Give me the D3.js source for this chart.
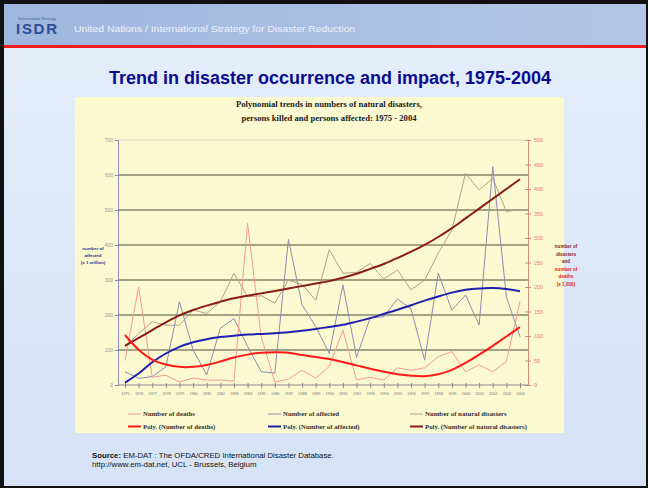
<!DOCTYPE html>
<html>
  <head>
    <script src="https://d3js.org/d3.v7.min.js"></script>
    <style>body { margin: 0; }</style>
  </head>
  <body>
    <svg width="648" height="488"></svg>
    <script>
      const years = [1975, 1976, 1977, 1978, 1979, 1980, 1981, 1982, 1983, 1984,
                     1985, 1986, 1987, 1988, 1989, 1990, 1991, 1992, 1993, 1994,
                     1995, 1996, 1997, 1998, 1999, 2000, 2001, 2002, 2003, 2004];
      // deaths x1000 (right axis)
      const deaths = [50, 200, 16, 20, 6, 14, 10, 10, 8, 330, 98, 6, 12, 30, 14,
                      38, 112, 10, 16, 10, 35, 30, 35, 58, 68, 27, 41, 27, 48, 170];
      // affected, millions (left axis)
      const affected = [38, 19, 24, 52, 238, 100, 29, 162, 190, 110, 38, 34, 416, 229, 167,
                        90, 286, 79, 192, 195, 246, 217, 71, 319, 214, 257, 171, 624, 252, 138];
      // natural disasters (right axis)
      const disasters = [78, 105, 129, 122, 122, 153, 146, 170, 228, 180, 182, 167, 214, 205, 173,
                         276, 228, 230, 248, 216, 235, 194, 214, 269, 316, 432, 398, 422, 354, 358];
      const trendDeaths = [102, 72, 52, 42, 37, 37, 41, 48, 56, 62, 66, 67, 66, 61, 57,
                           53, 47, 40, 33, 27, 22, 19, 18, 22, 31, 45, 62, 80, 99, 118];
      const trendAffected = [7, 33, 65, 90, 109, 122, 131, 137, 141, 144, 146, 148, 151, 155, 160,
                             166, 172, 181, 191, 203, 215, 228, 241, 253, 264, 272, 276, 277, 274, 268];
      const trendDisasters = [80, 96, 112, 128, 142, 153, 162, 170, 177, 182, 187, 192, 197, 202, 207,
                              212, 219, 227, 237, 247, 259, 272, 286, 302, 320, 340, 360, 380, 400, 420];
      const leftTicks = [0, 100, 200, 300, 400, 500, 600, 700];
      const rightTicks = [0, 50, 100, 150, 200, 250, 300, 350, 400, 450, 500];

      const svg = d3.select("svg");

      // slide background
      const defs = svg.append("defs");
      const hg = defs.append("linearGradient").attr("id", "hg");
      hg.append("stop").attr("offset", "0%").attr("stop-color", "#9fb6de");
      hg.append("stop").attr("offset", "100%").attr("stop-color", "#b3c6e8");
      const bg = defs.append("linearGradient").attr("id", "bg").attr("x2", 0).attr("y2", 1);
      bg.append("stop").attr("offset", "0%").attr("stop-color", "#e4eefb");
      bg.append("stop").attr("offset", "100%").attr("stop-color", "#d6e3f6");

      svg.append("rect").attr("width", 648).attr("height", 488).attr("fill", "#111");
      svg.append("rect").attr("x", 4).attr("y", 4).attr("width", 642).attr("height", 482).attr("fill", "url(#bg)");
      svg.append("rect").attr("x", 4).attr("y", 4).attr("width", 642).attr("height", 41).attr("fill", "url(#hg)");
      svg.append("rect").attr("x", 4).attr("y", 45).attr("width", 642).attr("height", 3).attr("fill", "#ee1c1c");

      // logo
      svg.append("text").attr("x", 18).attr("y", 20).attr("font-size", 4)
        .attr("font-family", "Liberation Sans, Arial").attr("fill", "#4a5f90").text("International Strategy");
      svg.append("text").attr("x", 16).attr("y", 34).attr("font-size", 15).attr("font-weight", "bold")
        .attr("font-family", "Liberation Sans, Arial").attr("fill", "#2a4d96")
        .attr("textLength", 41).attr("lengthAdjust", "spacing").text("ISDR");
      svg.append("text").attr("x", 74).attr("y", 32).attr("font-size", 9.5)
        .attr("font-family", "Liberation Sans Narrow, Liberation Sans, Arial").attr("fill", "#eef3fb")
        .attr("textLength", 281).attr("lengthAdjust", "spacingAndGlyphs")
        .text("United Nations / International Strategy for Disaster Reduction");

      // title
      svg.append("text").attr("x", 330).attr("y", 84).attr("text-anchor", "middle")
        .attr("font-family", "Liberation Sans, Arial").attr("font-weight", "bold").attr("font-size", 18)
        .attr("fill", "#0b0b8e").text("Trend in disaster occurrence and impact, 1975-2004");

      // chart panel
      svg.append("rect").attr("x", 75).attr("y", 97).attr("width", 489).attr("height", 336)
        .attr("fill", "#fbf9cf");
      const sub = svg.append("g").attr("font-family", "Liberation Serif, Times New Roman")
        .attr("font-weight", "bold").attr("font-size", 8.6).attr("fill", "#222").attr("text-anchor", "middle");
      sub.append("text").attr("x", 329).attr("y", 107).text("Polynomial trends in numbers of natural disasters,");
      sub.append("text").attr("x", 329).attr("y", 121).text("persons killed and persons affected: 1975 - 2004");

      const x = d3.scaleLinear().domain([1975, 2004]).range([125, 520]);
      const yL = d3.scaleLinear().domain([0, 700]).range([385, 140]);
      const yR = d3.scaleLinear().domain([0, 500]).range([385, 140]);
      const plotLeft = 118, plotRight = 528;

      // gridlines
      svg.append("g").selectAll("line").data(leftTicks.filter(d => d > 0)).join("line")
        .attr("x1", plotLeft).attr("x2", plotRight)
        .attr("y1", d => yL(d)).attr("y2", d => yL(d))
        .attr("stroke", d => d === 700 ? "#e6e3c0" : "#86856a").attr("stroke-width", 1.3);

      // left axis
      const gL = svg.append("g").attr("transform", `translate(${plotLeft},0)`)
        .call(d3.axisLeft(yL).tickValues(leftTicks).tickSize(3).tickPadding(2));
      gL.select(".domain").attr("stroke", "#8a8ab4");
      gL.selectAll(".tick line").attr("stroke", "#8a8ab4");
      gL.selectAll(".tick text").attr("font-size", 5).attr("fill", "#999").attr("font-family", "Liberation Sans, Arial");

      // right axis
      const gR = svg.append("g").attr("transform", `translate(${plotRight},0)`)
        .call(d3.axisRight(yR).tickValues(rightTicks).tickSize(3).tickPadding(3));
      gR.select(".domain").attr("stroke", "#d88a7a");
      gR.selectAll(".tick line").attr("stroke", "#d88a7a").attr("x1", -3);
      gR.selectAll(".tick text").attr("font-size", 5.5).attr("fill", "#ee7777").attr("font-family", "Liberation Sans, Arial");

      // bottom axis
      const gB = svg.append("g").attr("transform", "translate(0,385)")
        .call(d3.axisBottom(x).tickValues(years).tickFormat(d3.format("d")).tickSize(3).tickPadding(4));
      gB.select(".domain").attr("d", `M${plotLeft},0H${plotRight}`).attr("stroke", "#8a8a8a");
      gB.selectAll(".tick line").attr("stroke", "#8a8a8a").attr("y1", -2);
      gB.selectAll(".tick text").attr("font-size", 3.8).attr("fill", "#777").attr("font-family", "Liberation Sans, Arial");

      // axis titles
      const lt = svg.append("g").attr("font-family", "Liberation Sans, Arial").attr("font-size", 4.4)
        .attr("font-weight", "bold").attr("text-anchor", "middle").attr("fill", "#2a2aa0");
      ["number of", "affected", "(x 1 million)"].forEach((t, i) =>
        lt.append("text").attr("x", 93).attr("y", 250 + i * 7).text(t));
      const rt = svg.append("g").attr("font-family", "Liberation Sans, Arial").attr("font-size", 4.6)
        .attr("font-weight", "bold").attr("text-anchor", "middle");
      ["number of", "disasters", "and", "number of", "deaths", "(x 1,000)"].forEach((t, i) =>
        rt.append("text").attr("x", 566).attr("y", 248 + i * 7.6)
          .attr("fill", i < 3 ? "#8a1e1e" : "#e82020").text(t));

      const rawLine = (ys) => d3.line().x((d, i) => x(years[i])).y(d => ys(d));
      const trendLine = (ys) => d3.line().x((d, i) => x(years[i])).y(d => ys(d)).curve(d3.curveCatmullRom);

      const series = [
        { data: disasters, y: yR, color: "#b0a28c", w: 1, curve: false },
        { data: affected, y: yL, color: "#8c8cb4", w: 1, curve: false },
        { data: deaths, y: yR, color: "#f59a9a", w: 1, curve: false },
        { data: trendDisasters, y: yR, color: "#8b1c1c", w: 2, curve: true },
        { data: trendAffected, y: yL, color: "#2020b0", w: 2, curve: true },
        { data: trendDeaths, y: yR, color: "#ff1a1a", w: 2, curve: true }
      ];
      series.forEach(s => {
        svg.append("path").datum(s.data)
          .attr("d", (s.curve ? trendLine(s.y) : rawLine(s.y)))
          .attr("fill", "none").attr("stroke", s.color).attr("stroke-width", s.w)
          .attr("stroke-linejoin", "round");
      });

      // legend
      const legendItems = [
        { label: "Number of deaths", color: "#f59a9a", w: 1, col: 0, row: 0 },
        { label: "Number of affected", color: "#8c8cb4", w: 1, col: 1, row: 0 },
        { label: "Number of natural disasters", color: "#b0a28c", w: 1, col: 2, row: 0 },
        { label: "Poly. (Number of deaths)", color: "#ff1a1a", w: 2, col: 0, row: 1 },
        { label: "Poly. (Number of affected)", color: "#2020b0", w: 2, col: 1, row: 1 },
        { label: "Poly. (Number of natural disasters)", color: "#8b1c1c", w: 2, col: 2, row: 1 }
      ];
      const colX = [128, 268, 410];
      const lg = svg.append("g").selectAll("g").data(legendItems).join("g")
        .attr("transform", d => `translate(${colX[d.col]},${414 + d.row * 12.5})`);
      lg.append("line").attr("x1", 0).attr("x2", 13).attr("stroke", d => d.color).attr("stroke-width", d => d.w);
      lg.append("text").attr("x", 15).attr("y", 2.2).attr("font-size", 6.8).attr("font-weight", "bold")
        .attr("font-family", "Liberation Serif, Times New Roman").attr("fill", "#333").text(d => d.label);

      // source
      const src = svg.append("g").attr("font-family", "Liberation Sans, Arial").attr("font-size", 7.8).attr("fill", "#111");
      const s1 = src.append("text").attr("x", 92).attr("y", 458);
      s1.append("tspan").attr("font-weight", "bold").text("Source:");
      s1.append("tspan").text(" EM-DAT : The OFDA/CRED International Disaster Database.");
      src.append("text").attr("x", 92).attr("y", 467).text("http://www.em-dat.net, UCL - Brussels, Belgium");
    </script>
  </body>
</html>
